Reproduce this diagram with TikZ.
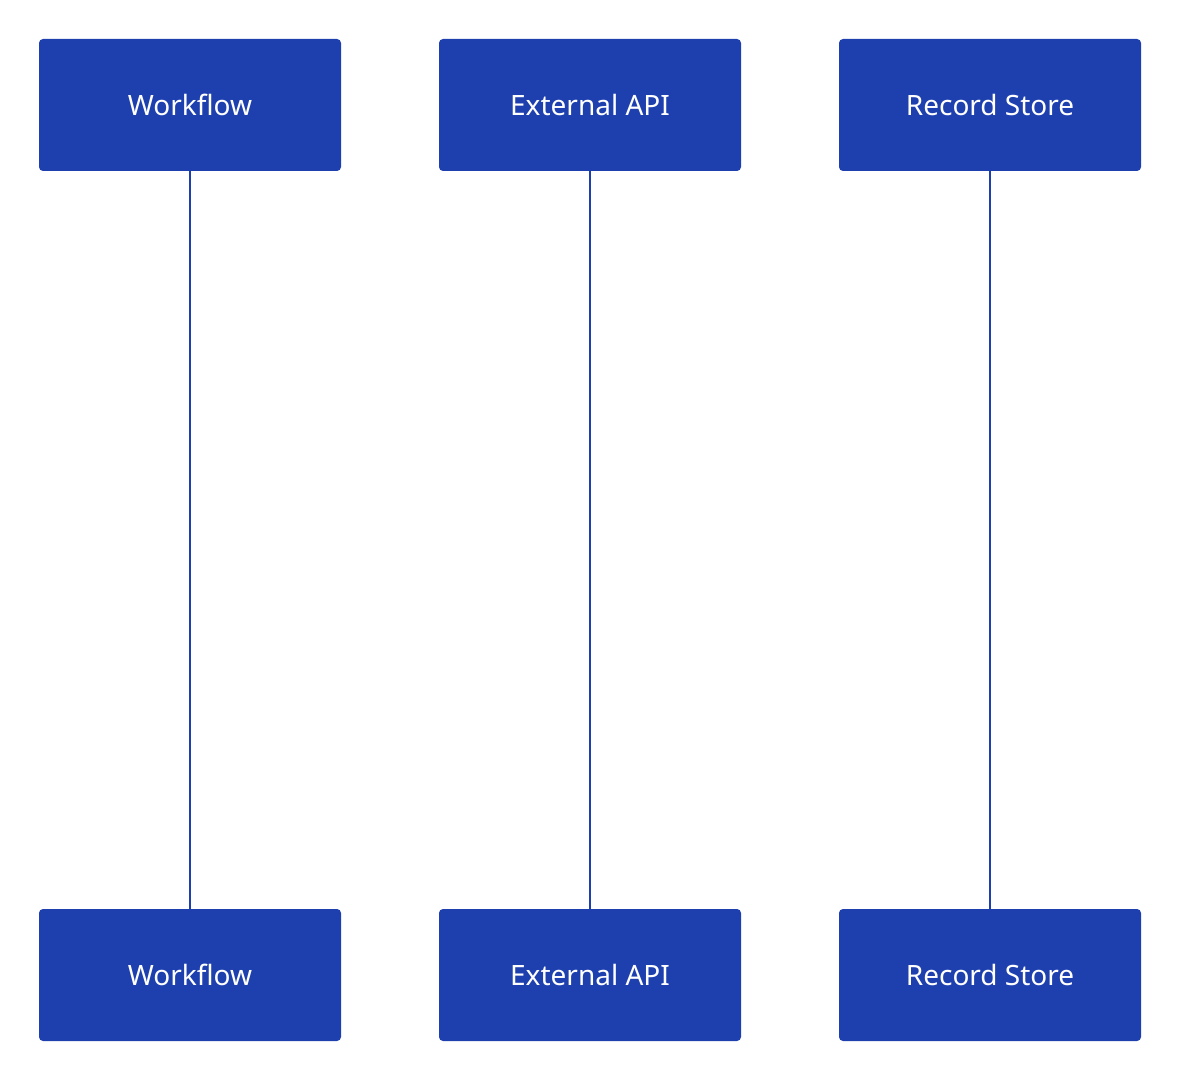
\documentclass[tikz,border=0pt]{standalone}
\usepackage{fontspec}
\setmainfont{Noto Sans}
\definecolor{blu}{HTML}{1E40AF}
\begin{document}
\begin{tikzpicture}[x=0.75pt,y=-0.75pt,
  actor/.style={draw=none,fill=blu,rounded corners=3pt,minimum width=302*0.75pt,minimum height=132*0.75pt,inner sep=0pt,text=white,font=\fontsize{21}{25}\selectfont},
  life/.style={draw=blu,line width=2.2pt}]
\useasboundingbox[fill=white] (0,0) rectangle (1180,1080);
\node[actor] (w1) at (190,105) {Workflow};
\node[actor] (e1) at (590,105) {External API};
\node[actor] (r1) at (990,105) {Record Store};
\node[actor] (w2) at (190,975) {Workflow};
\node[actor] (e2) at (590,975) {External API};
\node[actor] (r2) at (990,975) {Record Store};
\draw[life] (w1) -- (w2);
\draw[life] (e1) -- (e2);
\draw[life] (r1) -- (r2);
\end{tikzpicture}
\end{document}
